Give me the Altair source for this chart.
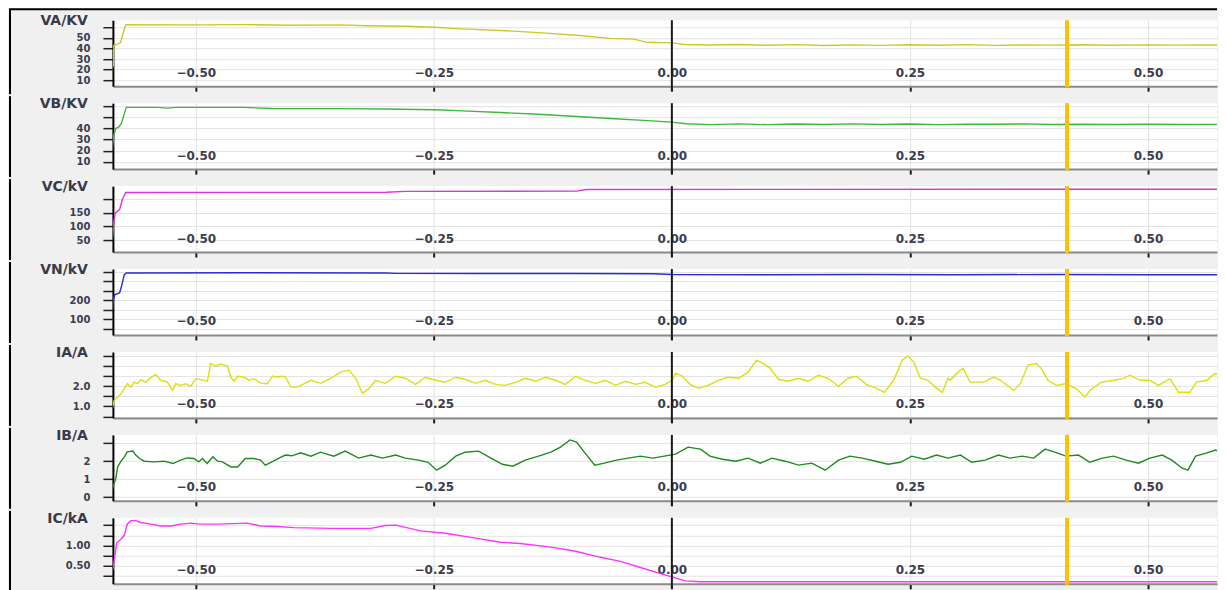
import altair as alt
import pandas as pd

# ---------------- data (time in s, value) ----------------
T_DOMAIN = [-0.587, 0.5725]
X_TICKS = [-0.5, -0.25, 0.0, 0.25, 0.5]
CURSOR_T = 0.415

VA = [(-0.588, 5), (-0.5875, 22), (-0.5865, 24), (-0.586, 43), (-0.582, 44), (-0.579, 45.5),
      (-0.577, 52), (-0.5745, 60), (-0.573, 62.5), (-0.50, 62.3), (-0.45, 62.5), (-0.40, 62.0),
      (-0.35, 62.3), (-0.32, 61.5), (-0.28, 61.0), (-0.25, 60.0), (-0.22, 58.5), (-0.18, 57.0),
      (-0.14, 55.0), (-0.10, 52.5), (-0.065, 49.5), (-0.04, 48.8), (-0.026, 45.8), (0.0, 45.3),
      (0.014, 43.7), (0.04, 43.2), (0.07, 43.8), (0.10, 43.0), (0.13, 43.6), (0.16, 42.8),
      (0.19, 43.4), (0.22, 42.9), (0.25, 43.5), (0.28, 43.0), (0.31, 43.6), (0.34, 42.9),
      (0.37, 43.4), (0.40, 43.1), (0.43, 43.5), (0.46, 43.0), (0.50, 43.4), (0.53, 43.1),
      (0.56, 43.3), (0.582, 43.2)]

VB = [(-0.588, 3), (-0.5875, 22), (-0.586, 34), (-0.584, 40), (-0.581, 41), (-0.578, 44.5),
      (-0.5755, 51.7), (-0.573, 58.6), (-0.54, 58.6), (-0.53, 58.0), (-0.52, 58.6), (-0.45, 58.6),
      (-0.42, 57.6), (-0.35, 57.5), (-0.30, 57.2), (-0.25, 56.5), (-0.22, 55.5), (-0.18, 54.0),
      (-0.14, 52.5), (-0.10, 50.5), (-0.06, 48.5), (-0.03, 47.0), (0.0, 45.5), (0.015, 44.0),
      (0.04, 43.2), (0.07, 43.9), (0.10, 43.2), (0.13, 43.8), (0.16, 43.4), (0.19, 43.9),
      (0.22, 43.3), (0.25, 43.8), (0.28, 43.2), (0.31, 43.7), (0.34, 43.5), (0.37, 43.9),
      (0.40, 43.3), (0.43, 43.6), (0.46, 43.3), (0.50, 43.6), (0.54, 43.3), (0.582, 43.5)]

VC = [(-0.588, 0), (-0.5875, 50), (-0.587, 70), (-0.586, 118), (-0.5845, 150), (-0.580, 162),
      (-0.577, 200), (-0.5735, 225), (-0.30, 226), (-0.28, 229), (-0.10, 230), (-0.09, 236),
      (0.582, 237)]

VN = [(-0.5885, 16), (-0.588, 116), (-0.5865, 203), (-0.585, 230), (-0.580, 238), (-0.578, 274),
      (-0.575, 335), (-0.573, 344), (-0.45, 345), (-0.30, 344), (-0.29, 342), (-0.20, 341),
      (-0.10, 341), (-0.02, 340), (0.0, 336), (0.10, 335), (0.20, 336), (0.30, 335), (0.40, 336),
      (0.50, 335), (0.582, 335)]

IA = [(-0.588, 0.8), (-0.5857, 1.29), (-0.5787, 1.62), (-0.5717, 2.12), (-0.5682, 1.95),
      (-0.5647, 2.2), (-0.5612, 2.12), (-0.5577, 2.32), (-0.5525, 2.2), (-0.5472, 2.42),
      (-0.542, 2.57), (-0.5367, 2.29), (-0.5297, 2.2), (-0.5244, 1.79), (-0.521, 2.12),
      (-0.5157, 2.04), (-0.5105, 2.12), (-0.5052, 1.99), (-0.5, 2.37), (-0.4948, 2.32),
      (-0.4877, 2.25), (-0.4843, 3.12), (-0.479, 2.99), (-0.4738, 3.09), (-0.4667, 2.99),
      (-0.4633, 2.45), (-0.4598, 2.25), (-0.4562, 2.49), (-0.4493, 2.45), (-0.4441, 2.29),
      (-0.4388, 2.37), (-0.4318, 2.15), (-0.4248, 2.12), (-0.4195, 2.49), (-0.4143, 2.45),
      (-0.409, 2.49), (-0.4056, 2.45), (-0.4003, 1.95), (-0.3933, 1.95),
      (-0.379, 2.29), (-0.369, 2.14), (-0.358, 2.39), (-0.348, 2.69), (-0.339, 2.79),
      (-0.332, 2.39), (-0.325, 1.64), (-0.318, 1.89), (-0.311, 2.29), (-0.301, 2.14),
      (-0.290, 2.49), (-0.280, 2.39), (-0.269, 2.09), (-0.259, 2.44), (-0.248, 2.29),
      (-0.238, 2.19), (-0.227, 2.44), (-0.217, 2.34), (-0.206, 2.14), (-0.196, 2.29),
      (-0.185, 2.09), (-0.175, 2.04), (-0.164, 2.19), (-0.154, 2.39), (-0.143, 2.24),
      (-0.133, 2.44), (-0.122, 2.29), (-0.112, 2.09), (-0.101, 2.49), (-0.091, 2.29),
      (-0.080, 2.14), (-0.070, 2.29), (-0.059, 2.04), (-0.049, 2.24), (-0.038, 2.09),
      (-0.028, 2.19), (-0.017, 1.94), (-0.007, 2.09), (0.0, 2.29), (0.004, 2.64),
      (0.011, 2.49), (0.019, 2.09), (0.028, 1.89), (0.038, 2.04), (0.049, 2.29), (0.059, 2.44),
      (0.070, 2.39), (0.080, 2.69), (0.089, 3.29), (0.095, 3.14), (0.103, 2.89), (0.112, 2.34),
      (0.122, 2.24), (0.133, 2.39), (0.143, 2.24), (0.154, 2.54), (0.164, 2.39), (0.175, 1.99),
      (0.185, 2.39), (0.194, 2.49), (0.204, 2.09), (0.215, 1.89), (0.223, 1.69), (0.233, 2.29),
      (0.242, 3.29), (0.248, 3.49), (0.254, 3.19), (0.261, 2.39), (0.269, 2.29), (0.278, 1.89),
      (0.284, 1.69), (0.290, 2.39), (0.292, 2.29), (0.303, 2.79), (0.306, 2.87), (0.313, 2.2),
      (0.327, 2.2), (0.338, 2.45), (0.345, 2.29), (0.359, 1.79), (0.366, 2.12), (0.374, 3.04),
      (0.383, 3.12), (0.388, 2.87), (0.395, 2.29), (0.404, 2.04), (0.413, 2.12), (0.425, 1.87),
      (0.434, 1.45), (0.439, 1.79), (0.451, 2.2), (0.464, 2.29), (0.474, 2.37), (0.481, 2.54),
      (0.492, 2.29), (0.502, 2.29), (0.511, 2.04), (0.523, 2.37), (0.532, 1.7), (0.544, 1.7),
      (0.551, 2.2), (0.562, 2.29), (0.570, 2.62), (0.581, 2.54)]

IB = [(-0.589, 0.0), (-0.587, 0.56), (-0.584, 1.03), (-0.582, 1.68), (-0.579, 1.96),
      (-0.575, 2.24), (-0.572, 2.52), (-0.566, 2.56), (-0.563, 2.34), (-0.559, 2.15),
      (-0.554, 2.0), (-0.544, 1.96), (-0.533, 2.0), (-0.524, 1.87), (-0.516, 2.06),
      (-0.509, 2.18), (-0.502, 2.15), (-0.497, 1.96), (-0.493, 2.15), (-0.488, 1.87),
      (-0.482, 2.24), (-0.477, 2.0), (-0.472, 1.96), (-0.463, 1.68), (-0.456, 1.68),
      (-0.448, 2.15), (-0.439, 2.15), (-0.432, 2.06), (-0.427, 1.78), (-0.420, 1.96),
      (-0.413, 2.15), (-0.406, 2.34), (-0.399, 2.3), (-0.390, 2.47), (-0.379, 2.28),
      (-0.369, 2.5), (-0.355, 2.28), (-0.343, 2.56), (-0.329, 2.17), (-0.316, 2.34),
      (-0.304, 2.17), (-0.290, 2.34), (-0.280, 2.17), (-0.266, 2.06), (-0.256, 1.94),
      (-0.247, 1.5), (-0.238, 1.78), (-0.227, 2.28), (-0.217, 2.5), (-0.203, 2.56),
      (-0.190, 2.17), (-0.178, 1.83), (-0.167, 1.72), (-0.154, 2.06), (-0.140, 2.28),
      (-0.127, 2.5), (-0.117, 2.78), (-0.107, 3.18), (-0.100, 3.06), (-0.092, 2.5),
      (-0.081, 1.78), (-0.071, 1.89), (-0.058, 2.06), (-0.046, 2.17), (-0.033, 2.28),
      (-0.020, 2.17), (-0.008, 2.28), (0.004, 2.39), (0.017, 2.78), (0.030, 2.67),
      (0.040, 2.28), (0.053, 2.11), (0.067, 2.0), (0.080, 2.17), (0.093, 1.89), (0.105, 2.17),
      (0.119, 2.0), (0.133, 1.78), (0.147, 1.89), (0.161, 1.5), (0.175, 2.06), (0.187, 2.28),
      (0.200, 2.17), (0.214, 2.0), (0.227, 1.83), (0.240, 1.94), (0.252, 2.28), (0.265, 2.11),
      (0.278, 2.34), (0.290, 2.17), (0.303, 2.34), (0.315, 1.94), (0.329, 2.06), (0.343, 2.34),
      (0.355, 2.17), (0.368, 2.28), (0.380, 2.17), (0.392, 2.67), (0.402, 2.5), (0.414, 2.28),
      (0.427, 2.34), (0.439, 1.94), (0.452, 2.17), (0.464, 2.28), (0.477, 2.06), (0.490, 1.89),
      (0.502, 2.17), (0.515, 2.34), (0.525, 2.06), (0.536, 1.61), (0.542, 1.5), (0.550, 2.28),
      (0.561, 2.45), (0.571, 2.62), (0.582, 2.34)]

IC = [(-0.589, 0.2), (-0.586, 0.565), (-0.583, 1.065), (-0.579, 1.15), (-0.575, 1.25),
      (-0.572, 1.525), (-0.568, 1.61), (-0.563, 1.61), (-0.558, 1.565), (-0.547, 1.525),
      (-0.537, 1.48), (-0.526, 1.48), (-0.516, 1.525), (-0.505, 1.55), (-0.495, 1.525),
      (-0.477, 1.525), (-0.446, 1.55), (-0.432, 1.48), (-0.414, 1.465), (-0.397, 1.44),
      (-0.358, 1.42), (-0.316, 1.42), (-0.301, 1.49), (-0.290, 1.5), (-0.264, 1.36),
      (-0.238, 1.3), (-0.211, 1.2), (-0.180, 1.08), (-0.159, 1.05), (-0.127, 0.96),
      (-0.101, 0.86), (-0.075, 0.71), (-0.054, 0.61), (-0.033, 0.46), (-0.012, 0.31),
      (0.0, 0.23), (0.014, 0.13), (0.030, 0.11), (0.582, 0.11)]

LABELS = ["VA/KV", "VB/KV", "VC/kV", "VN/kV", "IA/A", "IB/A", "IC/kA"]
COLORS = ["#c9c92a", "#3cb83c", "#dd33dd", "#2a2ad8", "#dede10", "#1c8c1c", "#ff33ff"]
DOMAINS = [[4.3, 66.7], [3.5, 62.4], [6, 248.5], [16, 365], [0.43, 3.69], [-0.2, 3.46], [0.06, 1.68]]
Y_TICKS = [[10, 20, 30, 40, 50, 60], [10, 20, 30, 40, 50, 60], [50, 100, 150, 200],
           [50, 100, 150, 200, 250, 300, 350], [0.5, 1.0, 1.5, 2.0, 2.5, 3.0, 3.5],
           [0, 1, 2, 3], [0.25, 0.5, 0.75, 1.0, 1.25, 1.5]]
Y_LABELED = [[10, 20, 30, 40, 50], [10, 20, 30, 40], [50, 100, 150], [100, 200], [1, 2],
             [0, 1, 2], [0.5, 1]]
Y_FORMATS = ["d", "d", "d", "d", ".1f", "d", ".2f"]
SERIES = [VA, VB, VC, VN, IA, IB, IC]

W, H = 1105, 66
FONT = "DejaVu Sans"
TEXT_COLOR = "#3d3d4d"


def panel(i):
    first = i == 0
    df = pd.DataFrame(SERIES[i], columns=["t", "v"])
    lab = ",".join(str(x) for x in Y_LABELED[i])
    fmt = Y_FORMATS[i]
    label_expr = f"indexof([{lab}], datum.value) >= 0 ? format(datum.value, '{fmt}') : ''"
    x_enc = alt.X("t:Q", title=None,
                  scale=alt.Scale(domain=T_DOMAIN, nice=False, zero=False),
                  axis=alt.Axis(values=X_TICKS, format=".2f", title=None))
    y_enc = alt.Y("v:Q", title=None,
                  scale=alt.Scale(domain=DOMAINS[i], nice=False, zero=False),
                  axis=alt.Axis(values=Y_TICKS[i], labelExpr=label_expr, title=None))
    line = alt.Chart(df).mark_line(color=COLORS[i], strokeWidth=1.4, clip=True).encode(
        x=x_enc, y=y_enc)
    zero = alt.Chart(pd.DataFrame({"t": [0.0]})).mark_rule(color="#1a1a1a", strokeWidth=2).encode(
        x=alt.X("t:Q", title=None), y=alt.value(0), y2=alt.value(H + 5))
    cursor = alt.Chart(pd.DataFrame({"t": [CURSOR_T]})).mark_rule(color="#ffc000", strokeWidth=4).encode(
        x=alt.X("t:Q", title=None), y=alt.value(0), y2=alt.value(H + 1))
    label = alt.Chart(pd.DataFrame({"name": [LABELS[i]]})).mark_text(
        align="right", baseline="alphabetic", fontSize=14, fontWeight="bold",
        font=FONT, color="#3a3a48").encode(
        x=alt.value(-25), y=alt.value(5), text="name:N")
    border = alt.Chart(pd.DataFrame({"a": [0]})).mark_rule(color="black", strokeWidth=2).encode(
        x=alt.value(-103), y=alt.value(-11 if first else -7), y2=alt.value(H + 8))
    layers = [line, zero, cursor, label, border]
    if first:
        top = alt.Chart(pd.DataFrame({"a": [0]})).mark_rule(color="black", strokeWidth=2).encode(
            x=alt.value(-104), x2=alt.value(W), y=alt.value(-11))
        layers.append(top)
    return alt.layer(*layers).properties(width=W, height=H)


chart = alt.vconcat(*[panel(i) for i in range(len(SERIES))], spacing=0).properties(
    padding=0
).configure(
    background="#f0f0f0"
).configure_view(
    stroke=None, fill="white"
).configure_axis(
    grid=True, gridColor="#e2e2e2", gridWidth=1,
    labelFont=FONT, labelFontWeight="bold", labelColor=TEXT_COLOR,
    labelOverlap=False
).configure_axisX(
    domainColor="#8a8a8a", domainWidth=2, tickColor="#1a1a1a", tickWidth=2, tickSize=5,
    labelPadding=-19, labelBaseline="middle", labelFlush=False, labelFontSize=12
).configure_axisY(
    domainColor="black", domainWidth=2, tickColor="#222222", tickWidth=1.5, tickSize=10,
    labelPadding=13, labelFontSize=10
)

chart.save("out.html", embed_options={"renderer": "svg", "actions": False})
